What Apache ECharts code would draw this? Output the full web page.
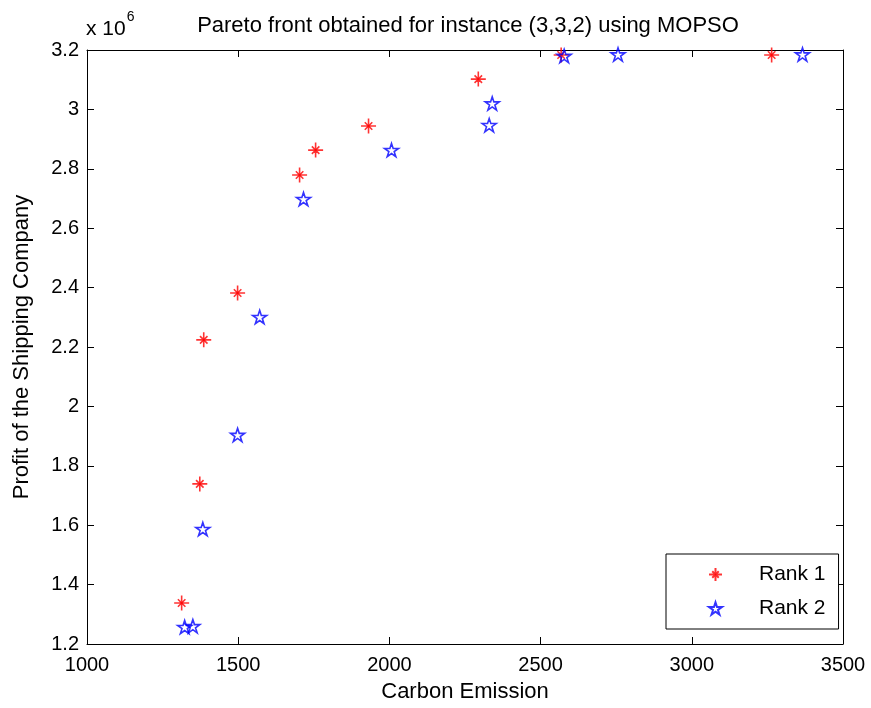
<!DOCTYPE html>
<html>
<head>
<meta charset="utf-8">
<script src="https://cdn.jsdelivr.net/npm/echarts@6/dist/echarts.min.js"></script>
<style>
  html, body { margin: 0; padding: 0; background: #fff; }
  #main { width: 871px; height: 708px; }
</style>
</head>
<body>
<div id="main"></div>
<script>
// values (profit in units of 10^6)
var rank1X = [1313, 1373, 1386, 1498, 1703, 1756, 1931, 2294, 2568, 3264];
var rank1Y = [1.338, 1.739, 2.224, 2.382, 2.779, 2.863, 2.944, 3.102, 3.183, 3.183];
var rank2X = [1323, 1350, 1383, 1498, 1571, 1716, 2007, 2330, 2340, 2578, 2756, 3366];
var rank2Y = [1.257, 1.260, 1.587, 1.904, 2.301, 2.698, 2.863, 2.947, 3.020, 3.180, 3.185, 3.185];
var seriesNames = ['Rank 1', 'Rank 2'];

var fontFam = 'Liberation Sans, Arial, sans-serif';
var asterisk = 'path://M0,-10L0,10M-10,0L10,0M-5,-5L5,5M-5,5L5,-5M-1.5,-1.5L1.5,-1.5L1.5,1.5L-1.5,1.5Z';
var star = 'path://M0,-10L2.245,-3.09L9.51,-3.09L3.63,1.18L5.88,8.09L0,3.82L-5.88,8.09L-3.63,1.18L-9.51,-3.09L-2.245,-3.09Z';

function pairs(xs, ys) {
    var out = [];
    for (var i = 0; i < xs.length; i++) {
        out.push([xs[i], ys[i]]);
    }
    return out;
}

var chartDom = document.getElementById('main');
var myChart = echarts.init(chartDom);
var option;

var boxAxis = {
    axisLine: { show: true, onZero: false, lineStyle: { color: '#000', width: 1 } },
    axisTick: { show: true, inside: true, length: 7, lineStyle: { color: '#000' } },
    splitLine: { show: false }
};

option = {
    animation: false,
    backgroundColor: '#fff',
    title: {
        text: 'Pareto front obtained for instance (3,3,2) using MOPSO',
        left: 463,
        textAlign: 'center',
        top: 10,
        textStyle: { fontFamily: fontFam, fontSize: 22, fontWeight: 'normal', color: '#000' }
    },
    grid: { left: 87, right: 28, top: 50, bottom: 64 },
    legend: {
        orient: 'vertical',
        left: 666,
        top: 554,
        backgroundColor: '#fff',
        borderColor: '#000',
        borderWidth: 1,
        borderRadius: 0,
        padding: [10, 13, 10, 42],
        itemGap: 13,
        itemWidth: 13,
        itemHeight: 13,
        data: seriesNames,
        textStyle: { fontFamily: fontFam, fontSize: 21, color: '#000', lineHeight: 20, padding: [0, 0, 0, 32] }
    },
    graphic: [{
        type: 'text',
        left: 86,
        top: 10,
        style: {
            text: '{a|x 10}{b|6}',
            rich: {
                a: { fontFamily: fontFam, fontSize: 21, fill: '#000', verticalAlign: 'bottom', padding: [9, 0, 0, 0] },
                b: { fontFamily: fontFam, fontSize: 14, fill: '#000', verticalAlign: 'top', padding: [0, 0, 12, 1] }
            }
        }
    }],
    xAxis: [
        Object.assign({
            type: 'value',
            min: 1000,
            max: 3500,
            interval: 500,
            position: 'bottom',
            name: 'Carbon Emission',
            nameLocation: 'middle',
            nameGap: 37,
            nameTextStyle: { fontFamily: fontFam, fontSize: 22, color: '#000' },
            axisLabel: {
                fontFamily: fontFam, fontSize: 20, color: '#000', margin: 11,
                formatter: function (v) { return String(v); }
            }
        }, boxAxis),
        Object.assign({
            type: 'value',
            min: 1000,
            max: 3500,
            interval: 500,
            position: 'top',
            axisLabel: { show: false }
        }, boxAxis)
    ],
    yAxis: [
        Object.assign({
            type: 'value',
            min: 1.2,
            max: 3.2,
            interval: 0.2,
            position: 'left',
            name: 'Profit of the Shipping Company',
            nameLocation: 'middle',
            nameGap: 54,
            nameTextStyle: { fontFamily: fontFam, fontSize: 22, color: '#000' },
            axisLabel: {
                fontFamily: fontFam, fontSize: 20, color: '#000', margin: 8,
                formatter: function (v) { return String(+v.toFixed(1)); }
            }
        }, boxAxis),
        Object.assign({
            type: 'value',
            min: 1.2,
            max: 3.2,
            interval: 0.2,
            position: 'right',
            axisLabel: { show: false }
        }, boxAxis)
    ],
    series: [
        {
            name: seriesNames[0],
            type: 'scatter',
            symbol: asterisk,
            symbolSize: 15,
            itemStyle: { color: '#ff0000', borderColor: '#ff0000', borderWidth: 1.6 },
            data: pairs(rank1X, rank1Y),
            z: 3
        },
        {
            name: seriesNames[1],
            type: 'scatter',
            symbol: star,
            symbolSize: 14,
            symbolKeepAspect: true,
            itemStyle: { color: 'rgba(0,0,0,0)', borderColor: '#0000ff', borderWidth: 1.6 },
            data: pairs(rank2X, rank2Y),
            z: 4
        }
    ]
};

myChart.setOption(option);
</script>
</body>
</html>
